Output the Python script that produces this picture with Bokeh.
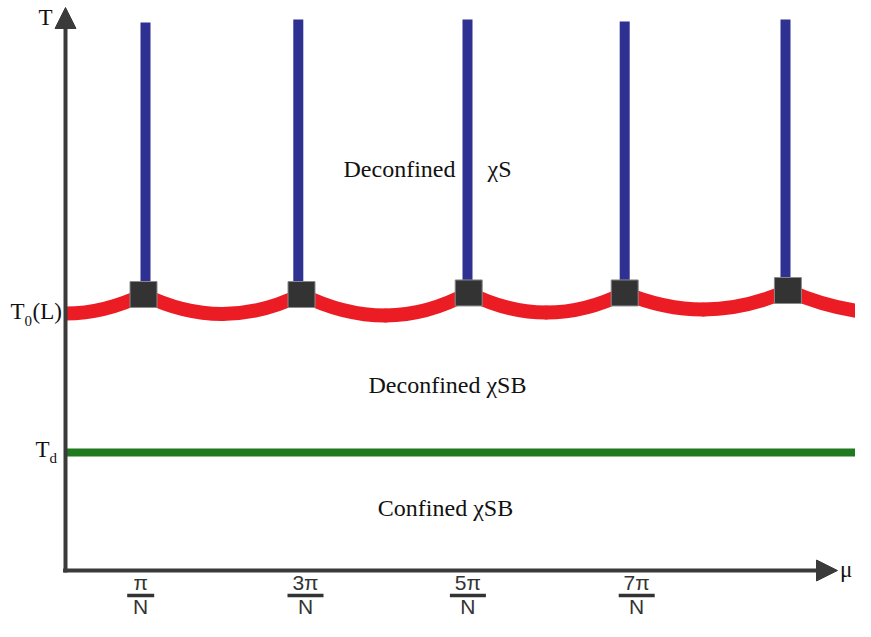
from bokeh.plotting import figure
from bokeh.models import Range1d, Arrow, NormalHead, ColumnDataSource
from bokeh.core.properties import value
from bokeh.embed import file_html
from bokeh.resources import INLINE

# ---- data (mu in units of pi/N, T in units of T_d) ----
peak_mu = [0.975, 2.95, 5.04, 6.99, 9.03]          # squares (critical points)
peak_T = [2.339, 2.339, 2.352, 2.352, 2.373]
min_mu = [0.0, 1.96, 4.0, 6.01, 7.975, 10.3]       # minima of T0(L) curve
min_T = [2.178, 2.174, 2.161, 2.186, 2.212, 2.18]
line_mu = [1.0, 2.91, 5.025, 6.99, 9.0]            # vertical blue lines
line_top_T = [4.644, 4.669, 4.669, 4.653, 4.669]
T_d = 1.0
tick_mu = [0.94, 3.0, 5.03, 7.14]
tick_num = ["π", "3π", "5π", "7π"]
tick_den = ["N", "N", "N", "N"]
mu_max = 9.65
T_max = 4.771

AX = "#3a3a3a"
SERIF = value("Liberation Serif")
SANS = value("Liberation Sans")
PX_T = 118.0   # screen pixels per unit of T

p = figure(width=855, height=621, x_range=Range1d(-0.8125, 9.875),
           y_range=Range1d(-0.43220, 4.83051), output_backend="svg",
           toolbar_location=None, min_border=0,
           x_axis_location=None, y_axis_location=None)
p.grid.visible = False
p.outline_line_color = None
p.background_fill_color = "white"

# green line T_d
p.segment(x0=[0], y0=[T_d], x1=[10.2], y1=[T_d], line_width=8,
          line_color="#1f7a1f")

# red curve T0(L): parabolic arcs between minima and peaks
kx, kt, kmin = [], [], []
for i in range(len(peak_mu)):
    kx += [min_mu[i], peak_mu[i]]
    kt += [min_T[i], peak_T[i]]
    kmin += [True, False]
kx.append(min_mu[-1]); kt.append(min_T[-1]); kmin.append(True)
seg = dict(x0=kx[:-1], y0=kt[:-1], x1=kx[1:], y1=kt[1:],
           cx=[(a + b) / 2 for a, b in zip(kx[:-1], kx[1:])],
           cy=[kt[i] if kmin[i] else kt[i + 1] for i in range(len(kx) - 1)])
first = {k: v[:1] for k, v in seg.items()}
rest = {k: v[1:] for k, v in seg.items()}
p.quadratic(x0="x0", y0="y0", x1="x1", y1="y1", cx="cx", cy="cy",
            source=ColumnDataSource(first), line_color="#ec1c24",
            line_width=14, line_cap="butt")
p.quadratic(x0="x0", y0="y0", x1="x1", y1="y1", cx="cx", cy="cy",
            source=ColumnDataSource(rest), line_color="#ec1c24",
            line_width=14, line_cap="round")

# blue vertical lines
p.segment(x0=line_mu, y0=peak_T, x1=line_mu, y1=line_top_T,
          line_width=10, line_color="#2e3192", line_cap="butt")

# squares
p.rect(x=peak_mu, y=peak_T, width=27, height=26, width_units="screen",
       height_units="screen", fill_color="#333333", line_color="#8a8a8a",
       line_width=1)

# axes with arrow heads
p.segment(x0=[0, -0.03], y0=[-0.017, 0], x1=[0, mu_max - 10 / 80],
          y1=[T_max - 10 / 118, 0], line_width=4, line_color=AX)
p.add_layout(Arrow(end=NormalHead(size=21, fill_color=AX, line_color=AX),
                   x_start=0, y_start=T_max - 0.3, x_end=0, y_end=T_max,
                   line_alpha=0))
p.add_layout(Arrow(end=NormalHead(size=21, fill_color=AX, line_color=AX),
                   x_start=mu_max - 0.3, y_start=0, x_end=mu_max, y_end=0,
                   line_alpha=0))

def lift(size_px):
    # rendered alphabetic baseline sits lower than requested: compensate
    return 0.375 * size_px / PX_T

def txt(x, y, s, size, font=SERIF, align="left", color="#111111"):
    p.text(x=[x], y=[y + lift(size)], text=[s], text_font=font,
           text_font_size=f"{size}px", text_align=align,
           text_baseline="alphabetic", text_color=color)

# axis names
txt(-0.3375, 4.61, "T", 23)
txt(mu_max + 0.03, -0.068, "μ", 23)
# T0(L)
txt(-0.6875, 2.1186, "T", 23)
txt(-0.5125, 2.068, "0", 15)
txt(-0.4125, 2.1186, "(L)", 23)
# Td
txt(-0.375, 0.949, "T", 23)
txt(-0.2, 0.907, "d", 15)

# region labels
txt(3.475, 3.3305, "Deconfined", 24)
txt(5.275, 3.3305, "χS", 24)
txt(4.775, 1.5, "Deconfined χSB", 24, align="center")
txt(4.75, 0.4576, "Confined χSB", 24, align="center")

# tick labels as fractions
FS = 21
bar_w = [27 if len(s) == 1 else 36 for s in tick_num]
p.text(x=tick_mu, y=[-0.1695 + lift(FS)] * len(tick_mu), text=tick_num,
       text_font=SANS, text_font_size=f"{FS}px", text_align="center",
       text_baseline="alphabetic", text_color="#333333")
p.rect(x=tick_mu, y=[-0.2119] * len(tick_mu), width=bar_w, height=3.5,
       width_units="screen", height_units="screen", fill_color="#333333",
       line_color=None)
p.text(x=tick_mu, y=[-0.3729 + lift(FS)] * len(tick_mu), text=tick_den,
       text_font=SANS, text_font_size=f"{FS}px", text_align="center",
       text_baseline="alphabetic", text_color="#333333")

open("out.html", "w").write(file_html(p, INLINE))
